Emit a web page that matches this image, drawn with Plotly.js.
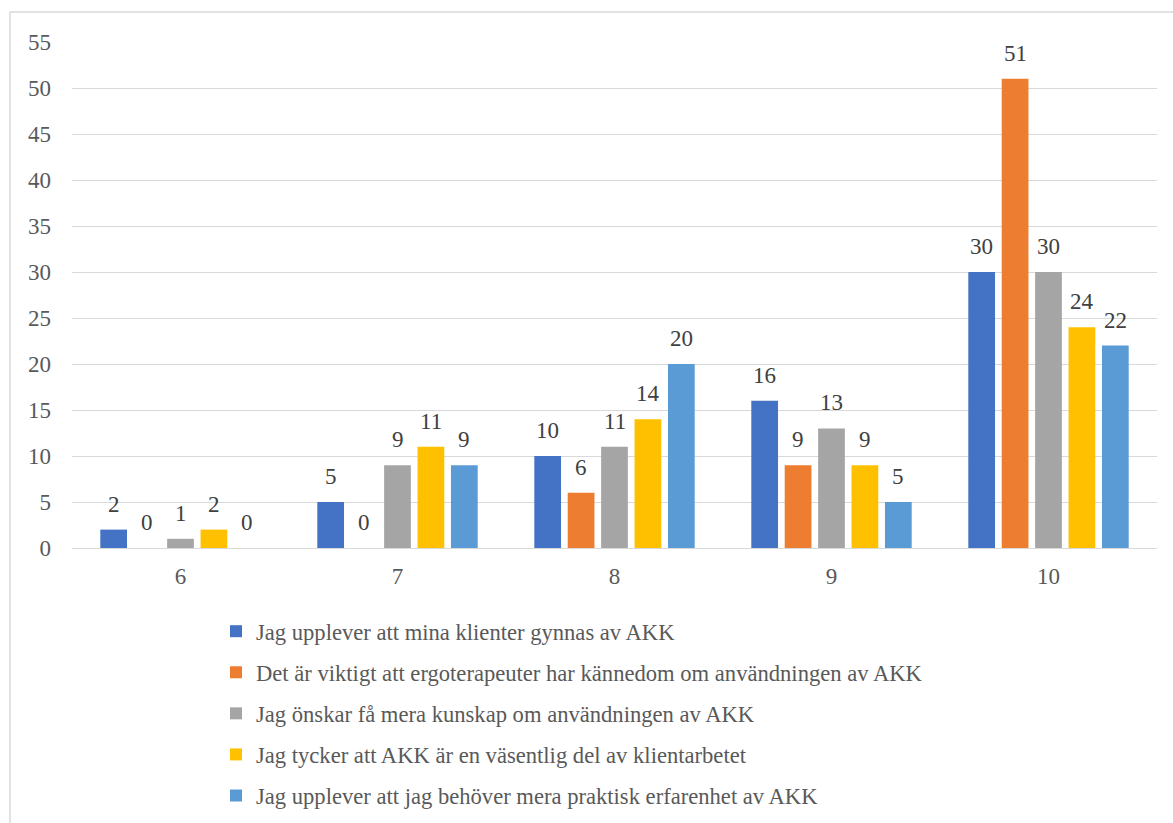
<!DOCTYPE html>
<html>
<head>
<meta charset="utf-8">
<script src="https://cdn.plot.ly/plotly-3.0.1.min.js"></script>
<style>
html,body{margin:0;padding:0;background:#fff;overflow:hidden;}
#chart{width:1173px;height:880px;}
</style>
</head>
<body>
<div id="chart"></div>
<script>
var categories = ['6', '7', '8', '9', '10'];
var seriesNames = [
  'Jag upplever att mina klienter gynnas av AKK',
  'Det är viktigt att ergoterapeuter har kännedom om användningen av AKK',
  'Jag önskar få mera kunskap om användningen av AKK',
  'Jag tycker att AKK är en väsentlig del av klientarbetet',
  'Jag upplever att jag behöver mera praktisk erfarenhet av AKK'
];
var s1 = [2, 5, 10, 16, 30];
var s2 = [0, 0, 6, 9, 51];
var s3 = [1, 9, 11, 13, 30];
var s4 = [2, 11, 14, 9, 24];
var s5 = [0, 9, 20, 5, 22];
var yTicks = [0, 5, 10, 15, 20, 25, 30, 35, 40, 45, 50, 55];

var colors = ['#4472C4', '#ED7D31', '#A5A5A5', '#FFC000', '#5B9BD5'];
var series = [s1, s2, s3, s4, s5];
var FONT = 'Liberation Serif';

var W = 1173, H = 880, VIEW_H = 823;
var margin = {l: 72, r: 16, t: 42, b: H - 548};
var plotW = W - margin.l - margin.r;
var plotH = H - margin.t - margin.b;
var bargap = 0.23;
var catW = plotW / categories.length;
var slot = catW * (1 - bargap) / series.length;

var traces = series.map(function (vals, i) {
  return {
    type: 'bar',
    name: seriesNames[i],
    x: categories,
    y: vals,
    marker: {color: colors[i]},
    legendgroup: 'g' + i,
    hoverinfo: 'skip'
  };
});

var annotations = [];
series.forEach(function (vals, i) {
  vals.forEach(function (v, j) {
    annotations.push({
      x: j, y: v, xref: 'x', yref: 'y',
      text: String(v), showarrow: false,
      xanchor: 'center', yanchor: 'bottom',
      xshift: (i - (series.length - 1) / 2) * slot,
      yshift: 11,
      font: {family: FONT, size: 23, color: '#404040'}
    });
  });
});

var layout = {
  width: W, height: H,
  margin: margin,
  paper_bgcolor: '#ffffff',
  plot_bgcolor: '#ffffff',
  barmode: 'group',
  bargap: bargap,
  bargroupgap: 0.2,
  showlegend: true,
  font: {family: FONT, color: '#595959'},
  xaxis: {
    type: 'category',
    range: [-0.5, categories.length - 0.5],
    autorange: false,
    showgrid: false,
    showline: false,
    zeroline: false,
    ticks: '',
    ticklabelstandoff: 12,
    tickfont: {family: FONT, size: 23, color: '#595959'}
  },
  yaxis: {
    range: [0, 55],
    autorange: false,
    tickvals: yTicks,
    ticktext: yTicks.map(String),
    showgrid: true,
    gridcolor: '#d9d9d9',
    gridwidth: 1,
    zeroline: true,
    zerolinecolor: '#d9d9d9',
    zerolinewidth: 1,
    showline: false,
    ticks: '',
    ticklabelstandoff: 20,
    tickfont: {family: FONT, size: 23, color: '#595959'},
    fixedrange: true
  },
  legend: {
    orientation: 'v',
    x: (216 - margin.l) / plotW,
    xanchor: 'left',
    y: -(610 - 548) / plotH,
    yanchor: 'top',
    traceorder: 'grouped',
    tracegroupgap: 8.7,
    font: {family: FONT, size: 22.6, color: '#595959'},
    bgcolor: 'rgba(0,0,0,0)',
    itemwidth: 30
  },
  annotations: annotations,
  shapes: [{
    type: 'rect', xref: 'paper', yref: 'paper',
    x0: (10 - margin.l) / plotW,
    x1: (W + 5 - margin.l) / plotW,
    y0: -(VIEW_H + 5 - 548) / plotH,
    y1: 1 + (margin.t - 12) / plotH,
    line: {color: '#d9d9d9', width: 1.5},
    fillcolor: 'rgba(0,0,0,0)',
    layer: 'below'
  }]
};

Plotly.newPlot('chart', traces, layout, {displayModeBar: false, staticPlot: true});
</script>
</body>
</html>
